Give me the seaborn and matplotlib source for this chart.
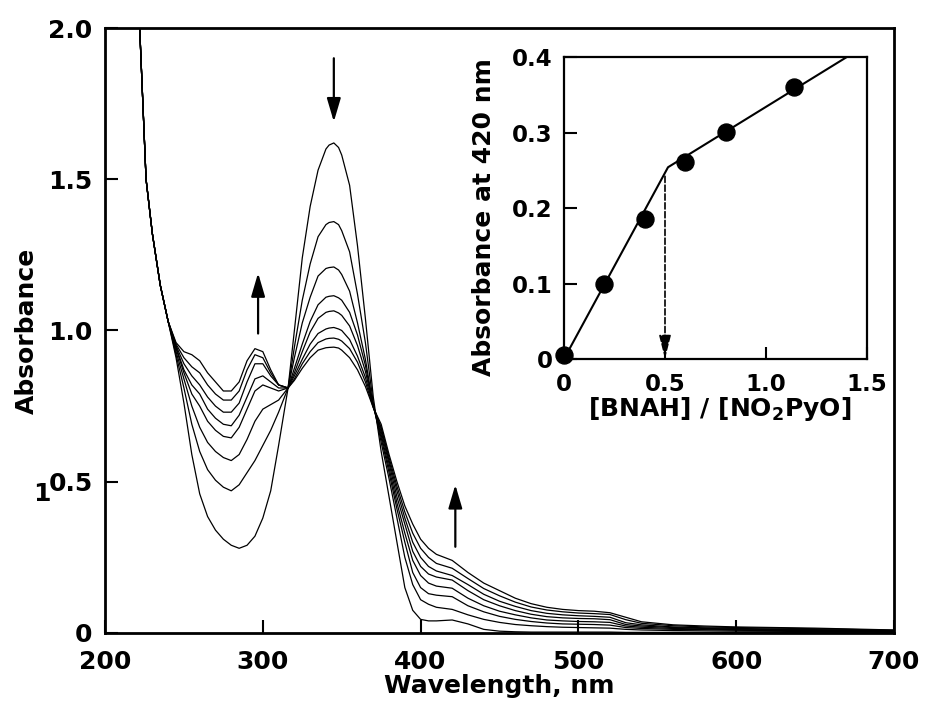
import seaborn as sns
import matplotlib.pyplot as plt
import pandas as pd

# UV-vis titration spectra
wavelength = [221, 226, 230, 235, 240, 245, 250, 255, 260, 265, 270, 275, 280, 285, 290,
              295, 300, 305, 310, 316, 320, 325, 330, 335, 340, 342, 345, 348, 350, 355, 360, 365,
              370, 375, 380, 385, 390, 395, 400, 405, 410, 420, 430, 440, 450, 460, 470,
              480, 490, 500, 510, 520, 530, 540, 560, 580, 600, 650, 700]

scan1 = [2.12, 1.50, 1.32, 1.15, 1.03, 0.91, 0.76, 0.59, 0.46, 0.385, 0.34, 0.31, 0.29, 0.28, 0.29,
         0.32, 0.38, 0.47, 0.62, 0.81, 1.00, 1.24, 1.41, 1.53, 1.60, 1.613, 1.62, 1.605, 1.58, 1.48, 1.28, 1.04,
         0.78, 0.60, 0.45, 0.30, 0.15, 0.075, 0.045, 0.04, 0.04, 0.043, 0.03, 0.012, 0.006, 0.004, 0.003,
         0.003, 0.003, 0.003, 0.003, 0.003, 0.002, 0.002, 0.002, 0.002, 0.002, 0.001, 0.001]
scan2 = [2.12, 1.50, 1.32, 1.15, 1.03, 0.92, 0.81, 0.69, 0.60, 0.54, 0.505, 0.482, 0.47, 0.49, 0.53,
         0.57, 0.62, 0.67, 0.73, 0.81, 0.945, 1.10, 1.22, 1.31, 1.35, 1.357, 1.36, 1.35, 1.33, 1.26, 1.12, 0.96,
         0.76, 0.63, 0.51, 0.38, 0.25, 0.16, 0.11, 0.095, 0.085, 0.078, 0.06, 0.045, 0.035, 0.028, 0.024,
         0.021, 0.019, 0.018, 0.017, 0.016, 0.012, 0.01, 0.008, 0.007, 0.006, 0.005, 0.004]
scan3 = [2.12, 1.50, 1.32, 1.15, 1.03, 0.93, 0.84, 0.75, 0.68, 0.63, 0.60, 0.58, 0.57, 0.59, 0.64,
         0.70, 0.74, 0.755, 0.77, 0.81, 0.91, 1.025, 1.11, 1.18, 1.205, 1.208, 1.21, 1.20, 1.185, 1.13, 1.025, 0.905,
         0.75, 0.645, 0.53, 0.41, 0.30, 0.20, 0.15, 0.13, 0.125, 0.12, 0.09, 0.07, 0.055, 0.045, 0.038,
         0.033, 0.03, 0.029, 0.028, 0.026, 0.018, 0.015, 0.012, 0.011, 0.009, 0.007, 0.005]
scan4 = [2.12, 1.50, 1.32, 1.15, 1.03, 0.94, 0.86, 0.79, 0.75, 0.70, 0.67, 0.65, 0.645, 0.68, 0.74,
         0.80, 0.82, 0.81, 0.80, 0.81, 0.875, 0.955, 1.03, 1.085, 1.11, 1.113, 1.115, 1.108, 1.10, 1.06, 0.985, 0.885,
         0.75, 0.655, 0.545, 0.43, 0.33, 0.24, 0.19, 0.165, 0.155, 0.148, 0.115, 0.09, 0.072, 0.06, 0.05,
         0.043, 0.04, 0.038, 0.037, 0.035, 0.023, 0.019, 0.015, 0.013, 0.011, 0.008, 0.006]
scan5 = [2.12, 1.50, 1.32, 1.15, 1.03, 0.945, 0.87, 0.82, 0.79, 0.74, 0.71, 0.69, 0.685, 0.72, 0.78,
         0.84, 0.85, 0.83, 0.81, 0.81, 0.86, 0.93, 0.995, 1.04, 1.06, 1.063, 1.065, 1.058, 1.05, 1.015, 0.95, 0.865,
         0.75, 0.665, 0.56, 0.45, 0.36, 0.27, 0.22, 0.195, 0.185, 0.175, 0.14, 0.11, 0.09, 0.074, 0.062,
         0.054, 0.05, 0.048, 0.047, 0.044, 0.028, 0.023, 0.018, 0.015, 0.013, 0.01, 0.007]
scan6 = [2.12, 1.50, 1.32, 1.15, 1.03, 0.95, 0.89, 0.85, 0.82, 0.78, 0.75, 0.73, 0.73, 0.76, 0.83,
         0.89, 0.89, 0.85, 0.82, 0.81, 0.85, 0.905, 0.955, 0.99, 1.005, 1.008, 1.01, 1.005, 1.00, 0.97, 0.915, 0.845,
         0.75, 0.675, 0.57, 0.47, 0.38, 0.30, 0.25, 0.22, 0.205, 0.19, 0.16, 0.128, 0.105, 0.088, 0.074,
         0.065, 0.06, 0.057, 0.055, 0.052, 0.034, 0.027, 0.02, 0.017, 0.015, 0.011, 0.008]
scan7 = [2.12, 1.50, 1.32, 1.15, 1.03, 0.955, 0.91, 0.88, 0.86, 0.82, 0.79, 0.77, 0.77, 0.80, 0.87,
         0.92, 0.91, 0.86, 0.82, 0.81, 0.84, 0.89, 0.93, 0.96, 0.972, 0.974, 0.975, 0.971, 0.965, 0.94, 0.895, 0.83,
         0.745, 0.68, 0.58, 0.485, 0.40, 0.33, 0.28, 0.25, 0.23, 0.214, 0.18, 0.147, 0.123, 0.102, 0.086,
         0.076, 0.07, 0.066, 0.064, 0.061, 0.044, 0.032, 0.024, 0.02, 0.018, 0.014, 0.009]
scan8 = [2.12, 1.50, 1.32, 1.15, 1.03, 0.96, 0.93, 0.92, 0.90, 0.86, 0.83, 0.80, 0.80, 0.83, 0.90,
         0.94, 0.93, 0.87, 0.82, 0.81, 0.835, 0.875, 0.91, 0.935, 0.943, 0.944, 0.945, 0.942, 0.935, 0.91, 0.87, 0.815,
         0.745, 0.69, 0.59, 0.50, 0.42, 0.36, 0.31, 0.28, 0.26, 0.24, 0.20, 0.165, 0.14, 0.115, 0.097,
         0.085, 0.078, 0.074, 0.072, 0.067, 0.052, 0.037, 0.027, 0.023, 0.02, 0.016, 0.01]

# inset: absorbance at 420 nm vs ratio
ratio = [0, 0.2, 0.4, 0.6, 0.8, 1.14]
abs420 = [0.005, 0.10, 0.186, 0.261, 0.301, 0.36]
fit_ratio = [0, 0.515, 1.4]
fit_abs = [0, 0.254, 0.4]
end_point = 0.5

scans = [scan1, scan2, scan3, scan4, scan5, scan6, scan7, scan8]
df = pd.DataFrame({
    'wavelength': wavelength * len(scans),
    'absorbance': [a for s in scans for a in s],
    'scan': [i for i, s in enumerate(scans) for _ in s],
})

sns.set_style('ticks', {'axes.edgecolor': 'black', 'text.color': 'black',
                        'xtick.color': 'black', 'ytick.color': 'black',
                        'axes.labelcolor': 'black'})
plt.rcParams['font.family'] = ['DejaVu Sans']
plt.rcParams['font.weight'] = 'bold'
plt.rcParams['axes.labelweight'] = 'bold'

fig = plt.figure(figsize=(9.27, 7.18), dpi=100)
ax = fig.add_axes([0.1133, 0.1184, 0.8511, 0.8426])
sns.lineplot(data=df, x='wavelength', y='absorbance', units='scan', estimator=None,
             color='black', lw=0.9, ax=ax)
ax.set_xlim(200, 700)
ax.set_ylim(0, 2)
ax.set_xticks([200, 300, 400, 500, 600, 700])
ax.set_yticks([0, 0.5, 1.0, 1.5, 2.0])
ax.set_yticklabels(['0', '0.5', '1.0', '1.5', '2.0'])
ax.tick_params(axis='both', direction='in', length=9.5, width=1.5, labelsize=18)
ax.tick_params(axis='x', pad=12)
ax.tick_params(axis='y', pad=9)
for sp in ax.spines.values():
    sp.set_linewidth(2)
ax.set_xlabel('Wavelength, nm', fontsize=18)
ax.set_ylabel('Absorbance', fontsize=18)
ax.xaxis.set_label_coords(0.5, -0.068)
ax.yaxis.set_label_coords(-0.084, 0.5)

arrow = dict(arrowstyle='-|>,head_length=0.95,head_width=0.28', color='black',
             lw=1.6, mutation_scale=15, shrinkA=0, shrinkB=0)
ax.annotate('', xy=(345, 1.69), xytext=(345, 1.90), arrowprops=arrow)
ax.annotate('', xy=(297, 1.19), xytext=(297, 0.99), arrowprops=arrow)
ax.annotate('', xy=(422, 0.49), xytext=(422, 0.285), arrowprops=arrow)

fig.text(42 / 927, 1 - 494 / 718, '1', ha='center', va='center', fontsize=18, weight='bold')

# inset
ins = fig.add_axes([0.6084, 0.5, 0.3269, 0.4206])
ins.set_facecolor('white')
sns.lineplot(x=fit_ratio, y=fit_abs, color='black', lw=1.5, ax=ins)
sns.scatterplot(x=ratio, y=abs420, color='black', s=150, edgecolor='black', zorder=3,
                clip_on=False, ax=ins)
ins.annotate('', xy=(end_point, 0.0), xytext=(end_point, 0.242),
             arrowprops=dict(arrowstyle='-|>,head_length=1.2,head_width=0.3', color='black',
                             lw=1.2, ls='--', mutation_scale=12, shrinkA=0, shrinkB=0))
ins.set_xlim(0, 1.5)
ins.set_ylim(0, 0.4)
ins.set_xticks([0, 0.5, 1.0, 1.5])
ins.set_xticklabels(['0', '0.5', '1.0', '1.5'])
ins.set_yticks([0, 0.1, 0.2, 0.3, 0.4])
ins.set_yticklabels(['0', '0.1', '0.2', '0.3', '0.4'])
ins.tick_params(axis='both', direction='in', length=9, width=1.5, labelsize=16.5)
ins.tick_params(axis='x', pad=10)
ins.tick_params(axis='y', pad=8)
for sp in ins.spines.values():
    sp.set_linewidth(1.6)
ins.set_xlabel(r'[BNAH] / [NO$_\mathbf{2}$PyO]', fontsize=18)
ins.set_ylabel('Absorbance at 420 nm', fontsize=18)
ins.xaxis.set_label_coords(0.513, -0.118)
ins.yaxis.set_label_coords(-0.224, 0.47)

fig.savefig('out.png', dpi=100)
